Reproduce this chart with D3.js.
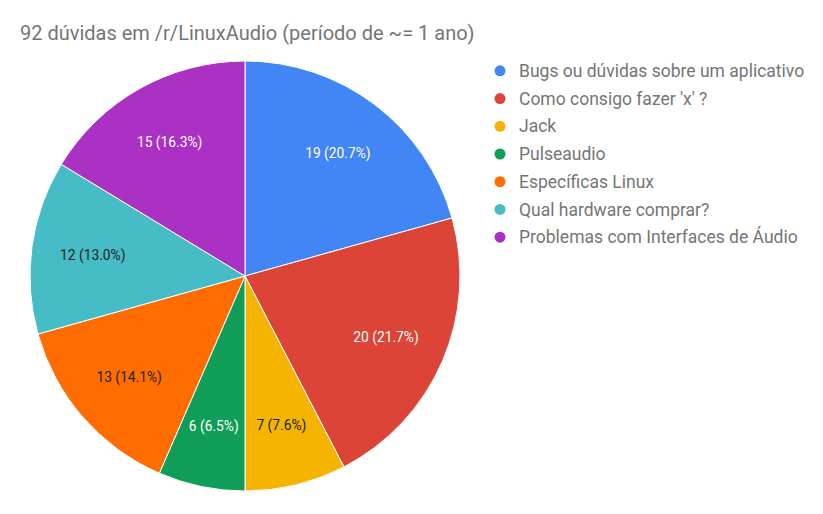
<!DOCTYPE html>
<html><head><meta charset="utf-8">
<script src="https://cdn.jsdelivr.net/npm/d3@7"></script>
<style>body{margin:0;background:#fff;font-family:Roboto,Arial,sans-serif}</style>
</head><body>
<svg id="c" width="823" height="514"></svg>
<script>
const categories = ["Bugs ou dúvidas sobre um aplicativo","Como consigo fazer 'x' ?","Jack","Pulseaudio","Específicas Linux","Qual hardware comprar?","Problemas com Interfaces de Áudio"];
const values = [19,20,7,6,13,12,15];
const colors = ["#4285F4","#DB4437","#F4B400","#0F9D58","#FF6D00","#46BDC6","#AB30C4"];
const labelColors = ["#fff","#fff","#222","#fff","#222","#222","#fff"];
const title = "92 dúvidas em /r/LinuxAudio (período de ~= 1 ano)";

const svg = d3.select("#c");
svg.append("text").attr("x",20).attr("y",40).attr("font-size",20).attr("fill","#757575").text(title);

const cx=245, cy=276, r=215;
const total = d3.sum(values);
const pie = d3.pie().sort(null).value(d=>d);
const arcs = pie(values);
const arc = d3.arc().innerRadius(0).outerRadius(r);
const labelArc = d3.arc().innerRadius(r*0.715).outerRadius(r*0.715);
const g = svg.append("g").attr("transform",`translate(${cx},${cy})`);
g.selectAll("path").data(arcs).join("path").attr("d",arc).attr("fill",(d,i)=>colors[i]).attr("stroke","#fff").attr("stroke-width",1);
g.selectAll("text").data(arcs).join("text")
  .attr("transform",d=>`translate(${labelArc.centroid(d)})`)
  .attr("text-anchor","middle").attr("dy","0.35em").attr("font-size",13.8)
  .attr("fill",(d,i)=>labelColors[i])
  .text(d=>`${d.data} (${(d.data/total*100).toFixed(1)}%)`);

const leg = svg.append("g");
const y = d3.scaleBand().domain(d3.range(categories.length)).range([57,251]);
const items = leg.selectAll("g").data(categories).join("g").attr("transform",(d,i)=>`translate(500,${y(i)+y.bandwidth()/2})`);
items.append("circle").attr("r",5.5).attr("fill",(d,i)=>colors[i]);
items.append("text").attr("x",19).attr("dy","0.35em").attr("font-size",17.5).attr("fill","#757575").text(d=>d);
</script>
</body></html>
